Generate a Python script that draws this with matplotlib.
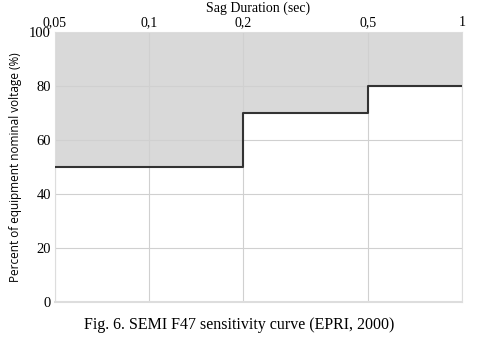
import matplotlib.pyplot as plt
from matplotlib.ticker import FixedLocator, NullLocator

# SEMI F47 curve
duration = [0.05, 0.2, 0.5, 1]
voltage = [50, 70, 80, 80]
xticks = [0.05, 0.1, 0.2, 0.5, 1]
xlabels = ['0,05', '0,1', '0,2', '0,5', '1']
yticks = [0, 20, 40, 60, 80, 100]

fig = plt.figure(figsize=(4.78, 3.37), dpi=100)
ax = fig.add_axes([55/478, 1 - 302/337, 407/478, 270/337])

ax.fill_between(duration, voltage, 100, step='post', color='#d9d9d9', lw=0, zorder=0.2)
ax.step(duration, voltage, where='post', color='#333333', lw=1.5, zorder=3)

ax.set_xscale('log')
ax.set_xlim(0.05, 1)
ax.set_ylim(0, 100)
ax.xaxis.set_major_locator(FixedLocator(xticks))
ax.xaxis.set_minor_locator(NullLocator())
ax.set_xticklabels(xlabels, family='Liberation Serif', fontsize=10)
ax.set_yticks(yticks)
ax.set_yticklabels([str(v) for v in yticks], family='Liberation Serif', fontsize=10.5)
ax.xaxis.tick_top()
ax.xaxis.set_label_position('top')
ax.tick_params(length=0)
ax.tick_params(axis='x', pad=2)
ax.tick_params(axis='y', pad=3)

ax.set_xlabel('Sag Duration (sec)', family='Liberation Serif', fontsize=10, labelpad=3)
ax.set_ylabel('Percent of equipment nominal voltage (%)', family='Open Sans', fontsize=8.5, labelpad=5)

ax.set_axisbelow(True)
ax.grid(True, color='#d0d0d0', lw=0.8, zorder=0.5)
for s in ax.spines.values():
    s.set_color('#dddddd')
ax.spines['bottom'].set_linewidth(1.5)

fig.text(0.5, 1 - 325/337, 'Fig. 6. SEMI F47 sensitivity curve (EPRI, 2000)',
         family='Liberation Serif', fontsize=11.5, ha='center', va='center')

fig.savefig('out.png', dpi=100)
